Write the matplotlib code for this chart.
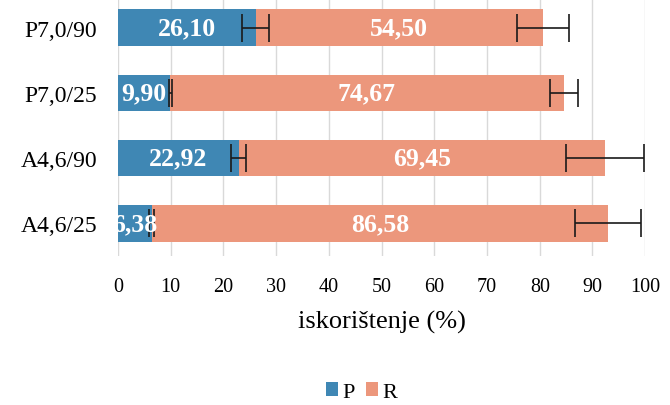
import matplotlib.pyplot as plt
import matplotlib as mpl

labels = ['A4,6/25', 'A4,6/90', 'P7,0/25', 'P7,0/90']
p_vals = [6.38, 22.92, 9.90, 26.10]
r_vals = [86.58, 69.45, 74.67, 54.50]
p_err = [0.5, 1.4, 0.3, 2.6]
r_err = [6.3, 7.4, 2.7, 5.0]

blue = '#3F87B4'
salmon = '#EC977C'

mpl.rcParams['font.family'] = ['Liberation Serif', 'DejaVu Serif']

fig = plt.figure(figsize=(6.7, 4.06), dpi=100)
ax = fig.add_axes([0.176, 0.367, 0.787, 0.643])

y = list(range(len(labels)))
totals = [p + r for p, r in zip(p_vals, r_vals)]

ax.barh(y, p_vals, height=0.56, color=blue, label='P', zorder=2)
ax.barh(y, r_vals, left=p_vals, height=0.56, color=salmon, label='R', zorder=2)

ax.errorbar(p_vals, y, xerr=p_err, fmt='none', ecolor='#1a1a1a',
            elinewidth=1.2, capsize=10, capthick=1.2, zorder=3)
ax.errorbar(totals, y, xerr=r_err, fmt='none', ecolor='#1a1a1a',
            elinewidth=1.2, capsize=10, capthick=1.2, zorder=3)

for i in y:
    ax.text(p_vals[i] / 2, i, ('%.2f' % p_vals[i]).replace('.', ','),
            ha='center', va='center', color='white', fontsize=18.5,
            fontweight='bold', clip_on=True, zorder=4)
    ax.text(p_vals[i] + r_vals[i] / 2, i, ('%.2f' % r_vals[i]).replace('.', ','),
            ha='center', va='center', color='white', fontsize=18.5,
            fontweight='bold', clip_on=True, zorder=4)

ax.set_xlim(0, 100)
ax.set_ylim(-0.5, 3.5)
ax.set_xticks(range(0, 101, 10))
ax.set_yticks(y)
ax.set_yticklabels(labels, fontsize=17)
ax.tick_params(axis='x', labelsize=14.5, length=0, pad=15)
ax.tick_params(axis='y', length=0, pad=15)
ax.grid(axis='x', color='#D9D9D9', linewidth=1, zorder=0)
ax.set_axisbelow(True)
for s in ax.spines.values():
    s.set_visible(False)

ax.set_xlabel('iskorištenje (%)', fontsize=19, labelpad=10)

fig.legend(loc='center', bbox_to_anchor=(0.54, 0.032), ncol=2, frameon=False,
           fontsize=16, handlelength=0.55, handleheight=0.55, handletextpad=0.2,
           columnspacing=0.5)

plt.savefig('out.png', dpi=100)
